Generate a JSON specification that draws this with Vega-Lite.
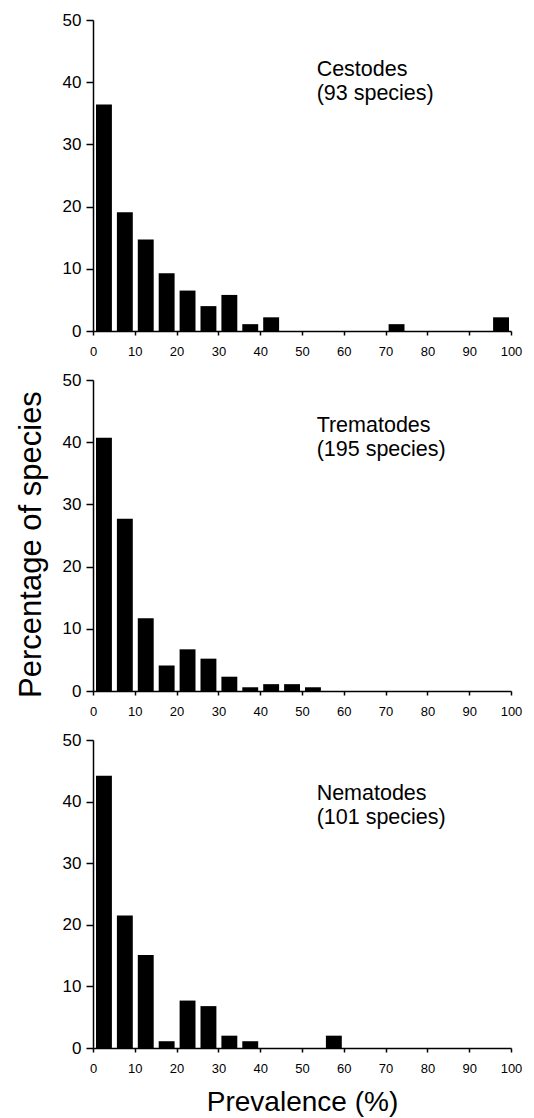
{
  "$schema": "https://vega.github.io/schema/vega-lite/v6.json",
  "padding": {"left": 15, "top": 11, "right": 5, "bottom": 2},
  "spacing": 49,
  "bounds": "flush",
  "config": {
    "view": {"stroke": null},
    "font": "Liberation Sans",
    "axis": {
      "domainColor": "#000",
      "domainWidth": 1.5,
      "tickColor": "#000",
      "tickWidth": 1.5,
      "labelColor": "#000",
      "titleColor": "#000",
      "grid": false,
      "labelOverlap": false,
      "labelFlush": false,
      "labelBound": false,
      "titleFontWeight": "normal"
    }
  },
  "datasets": {
    "hist": [
      {"taxon": "Cestodes", "lo": 0, "hi": 5, "pct": 36.4},
      {"taxon": "Cestodes", "lo": 5, "hi": 10, "pct": 19.1},
      {"taxon": "Cestodes", "lo": 10, "hi": 15, "pct": 14.7},
      {"taxon": "Cestodes", "lo": 15, "hi": 20, "pct": 9.3},
      {"taxon": "Cestodes", "lo": 20, "hi": 25, "pct": 6.5},
      {"taxon": "Cestodes", "lo": 25, "hi": 30, "pct": 4.0},
      {"taxon": "Cestodes", "lo": 30, "hi": 35, "pct": 5.8},
      {"taxon": "Cestodes", "lo": 35, "hi": 40, "pct": 1.1},
      {"taxon": "Cestodes", "lo": 40, "hi": 45, "pct": 2.2},
      {"taxon": "Cestodes", "lo": 70, "hi": 75, "pct": 1.1},
      {"taxon": "Cestodes", "lo": 95, "hi": 100, "pct": 2.2},
      {"taxon": "Trematodes", "lo": 0, "hi": 5, "pct": 40.7},
      {"taxon": "Trematodes", "lo": 5, "hi": 10, "pct": 27.7},
      {"taxon": "Trematodes", "lo": 10, "hi": 15, "pct": 11.7},
      {"taxon": "Trematodes", "lo": 15, "hi": 20, "pct": 4.1},
      {"taxon": "Trematodes", "lo": 20, "hi": 25, "pct": 6.7},
      {"taxon": "Trematodes", "lo": 25, "hi": 30, "pct": 5.2},
      {"taxon": "Trematodes", "lo": 30, "hi": 35, "pct": 2.3},
      {"taxon": "Trematodes", "lo": 35, "hi": 40, "pct": 0.6},
      {"taxon": "Trematodes", "lo": 40, "hi": 45, "pct": 1.1},
      {"taxon": "Trematodes", "lo": 45, "hi": 50, "pct": 1.1},
      {"taxon": "Trematodes", "lo": 50, "hi": 55, "pct": 0.6},
      {"taxon": "Nematodes", "lo": 0, "hi": 5, "pct": 44.2},
      {"taxon": "Nematodes", "lo": 5, "hi": 10, "pct": 21.5},
      {"taxon": "Nematodes", "lo": 10, "hi": 15, "pct": 15.1},
      {"taxon": "Nematodes", "lo": 15, "hi": 20, "pct": 1.1},
      {"taxon": "Nematodes", "lo": 20, "hi": 25, "pct": 7.7},
      {"taxon": "Nematodes", "lo": 25, "hi": 30, "pct": 6.8},
      {"taxon": "Nematodes", "lo": 30, "hi": 35, "pct": 2.0},
      {"taxon": "Nematodes", "lo": 35, "hi": 40, "pct": 1.1},
      {"taxon": "Nematodes", "lo": 55, "hi": 60, "pct": 2.0}
    ]
  },
  "vconcat": [
    {
      "width": 418,
      "height": 311,
      "layer": [
        {
          "data": {"name": "hist"},
          "transform": [{"filter": "datum.taxon === 'Cestodes'"}],
          "mark": {"type": "bar", "color": "#000", "binSpacing": 5},
          "encoding": {
            "x": {"field": "lo", "type": "quantitative", "bin": "binned",
              "scale": {"domain": [0, 100], "nice": false},
              "axis": {"title": null, "values": [0,5,10,15,20,25,30,35,40,45,50,55,60,65,70,75,80,85,90,95,100],
                "labelExpr": "datum.value % 10 === 0 ? datum.label : ''", "tickSize": 4, "labelPadding": 10, "labelFontSize": 13}},
            "x2": {"field": "hi"},
            "y": {"field": "pct", "type": "quantitative",
              "scale": {"domain": [0, 50], "nice": false},
              "axis": {"title": null, "values": [0,5,10,15,20,25,30,35,40,45,50],
                "labelExpr": "datum.value % 10 === 0 ? datum.label : ''",
                "tickSize": {"condition": {"test": "datum.value % 10 === 0", "value": 7}, "value": 4},
                "labelPadding": 5, "labelFontSize": 17}}
          }
        },
        {
          "data": {"values": [{}]},
          "mark": {"type": "text", "align": "left", "baseline": "alphabetic", "fontSize": 21.5, "lineHeight": 24, "color": "#000"},
          "encoding": {
            "x": {"datum": 53.5, "type": "quantitative"},
            "y": {"datum": 41, "type": "quantitative"},
            "text": {"value": ["Cestodes", "(93 species)"]}
          }
        }
      ]
    },
    {
      "width": 418,
      "height": 311,
      "layer": [
        {
          "data": {"name": "hist"},
          "transform": [{"filter": "datum.taxon === 'Trematodes'"}],
          "mark": {"type": "bar", "color": "#000", "binSpacing": 5},
          "encoding": {
            "x": {"field": "lo", "type": "quantitative", "bin": "binned",
              "scale": {"domain": [0, 100], "nice": false},
              "axis": {"title": null, "values": [0,5,10,15,20,25,30,35,40,45,50,55,60,65,70,75,80,85,90,95,100],
                "labelExpr": "datum.value % 10 === 0 ? datum.label : ''", "tickSize": 4, "labelPadding": 10, "labelFontSize": 13}},
            "x2": {"field": "hi"},
            "y": {"field": "pct", "type": "quantitative",
              "scale": {"domain": [0, 50], "nice": false},
              "axis": {"title": "Percentage of species", "titleFontSize": 31, "titlePadding": 14.5, "titleY": 164, "values": [0,5,10,15,20,25,30,35,40,45,50],
                "labelExpr": "datum.value % 10 === 0 ? datum.label : ''",
                "tickSize": {"condition": {"test": "datum.value % 10 === 0", "value": 7}, "value": 4},
                "labelPadding": 5, "labelFontSize": 17}}
          }
        },
        {
          "data": {"values": [{}]},
          "mark": {"type": "text", "align": "left", "baseline": "alphabetic", "fontSize": 21.5, "lineHeight": 24, "color": "#000"},
          "encoding": {
            "x": {"datum": 53.5, "type": "quantitative"},
            "y": {"datum": 41.7, "type": "quantitative"},
            "text": {"value": ["Trematodes", "(195 species)"]}
          }
        }
      ]
    },
    {
      "width": 418,
      "height": 308,
      "layer": [
        {
          "data": {"name": "hist"},
          "transform": [{"filter": "datum.taxon === 'Nematodes'"}],
          "mark": {"type": "bar", "color": "#000", "binSpacing": 5},
          "encoding": {
            "x": {"field": "lo", "type": "quantitative", "bin": "binned",
              "scale": {"domain": [0, 100], "nice": false},
              "axis": {"title": "Prevalence (%)", "titleFontSize": 28, "titlePadding": 13, "values": [0,5,10,15,20,25,30,35,40,45,50,55,60,65,70,75,80,85,90,95,100],
                "labelExpr": "datum.value % 10 === 0 ? datum.label : ''", "tickSize": 4, "labelPadding": 10, "labelFontSize": 13}},
            "x2": {"field": "hi"},
            "y": {"field": "pct", "type": "quantitative",
              "scale": {"domain": [0, 50], "nice": false},
              "axis": {"title": null, "values": [0,5,10,15,20,25,30,35,40,45,50],
                "labelExpr": "datum.value % 10 === 0 ? datum.label : ''",
                "tickSize": {"condition": {"test": "datum.value % 10 === 0", "value": 7}, "value": 4},
                "labelPadding": 5, "labelFontSize": 17}}
          }
        },
        {
          "data": {"values": [{}]},
          "mark": {"type": "text", "align": "left", "baseline": "alphabetic", "fontSize": 21.5, "lineHeight": 24, "color": "#000"},
          "encoding": {
            "x": {"datum": 53.5, "type": "quantitative"},
            "y": {"datum": 40.3, "type": "quantitative"},
            "text": {"value": ["Nematodes", "(101 species)"]}
          }
        }
      ]
    }
  ]
}
